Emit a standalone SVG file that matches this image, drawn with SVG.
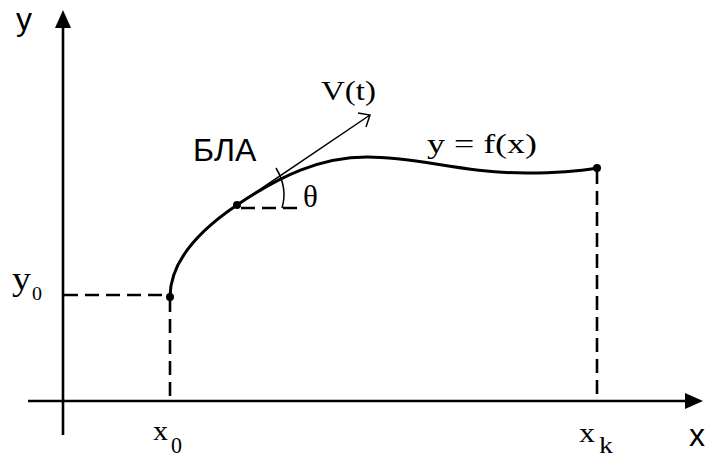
<svg xmlns="http://www.w3.org/2000/svg" width="717" height="461" viewBox="0 0 717 461">
<style>
.ax{stroke:#000;stroke-width:2.6;fill:none}
.cv{stroke:#000;stroke-width:3;fill:none}
.ds{stroke:#000;stroke-width:2.6;fill:none;stroke-dasharray:14 7}
.th{stroke:#000;stroke-width:1.5;fill:none}
.sf{font-family:"Liberation Sans",Arial,sans-serif;fill:#000}
.rm{font-family:"Liberation Serif","Times New Roman",serif;fill:#000}
.pt{fill:#000}
</style>
<rect width="717" height="461" fill="#fff"/>
<g id="axes">
<line class="ax" x1="63" y1="26" x2="63" y2="435"/>
<polygon points="63,10 55,28 71,28" fill="#000"/>
<line class="ax" x1="28" y1="401" x2="688" y2="401"/>
<polygon points="703,401 685,393 685,409" fill="#000"/>
<text class="sf" x="16" y="30" font-size="32">y</text>
<text class="sf" x="689" y="446" font-size="32">x</text>
</g>
<g id="connectors">
<line class="ds" x1="64" y1="295" x2="170" y2="295"/>
<line class="ds" x1="170" y1="298" x2="170" y2="401"/>
<line class="ds" x1="597" y1="170" x2="597" y2="401"/>
<line class="ds" x1="241" y1="208" x2="300" y2="208"/>
<path class="th" d="M237,205 L370,115 M358,113 L370,115 L366,127"/>
<path class="th" d="M276,168 Q288,188 282,208"/>
</g>
<g id="trajectory">
<path class="cv" d="M170,297 C170,262 197,232 237,205 C280,176 320,157 367,157 C420,157 460,173 527,173 C560,173 580,171 597,168"/>
<text class="rm" x="427" y="153" font-size="28" textLength="110" lengthAdjust="spacingAndGlyphs">y = f(x)</text>
</g>
<g id="start">
<circle class="pt" cx="170" cy="297" r="4"/>
<text class="rm" x="12" y="290" font-size="34" textLength="19" lengthAdjust="spacingAndGlyphs">y</text>
<text class="rm" x="32" y="300" font-size="18" textLength="10" lengthAdjust="spacingAndGlyphs">0</text>
<text class="rm" x="153" y="440" font-size="27" textLength="15" lengthAdjust="spacingAndGlyphs">x</text>
<text class="rm" x="171" y="453" font-size="23" textLength="11" lengthAdjust="spacingAndGlyphs">0</text>
</g>
<g id="uav">
<circle class="pt" cx="237" cy="205" r="4"/>
<text class="sf" x="193" y="161" font-size="32">БЛА</text>
<text class="rm" x="321" y="100" font-size="27" textLength="55" lengthAdjust="spacingAndGlyphs">V(t)</text>
<text class="rm" x="303" y="207" font-size="31">θ</text>
</g>
<g id="end">
<circle class="pt" cx="597" cy="168" r="4"/>
<text class="rm" x="579" y="442" font-size="27" textLength="16" lengthAdjust="spacingAndGlyphs">x</text>
<text class="rm" x="599" y="453" font-size="23" textLength="14" lengthAdjust="spacingAndGlyphs">k</text>
</g>
</svg>
